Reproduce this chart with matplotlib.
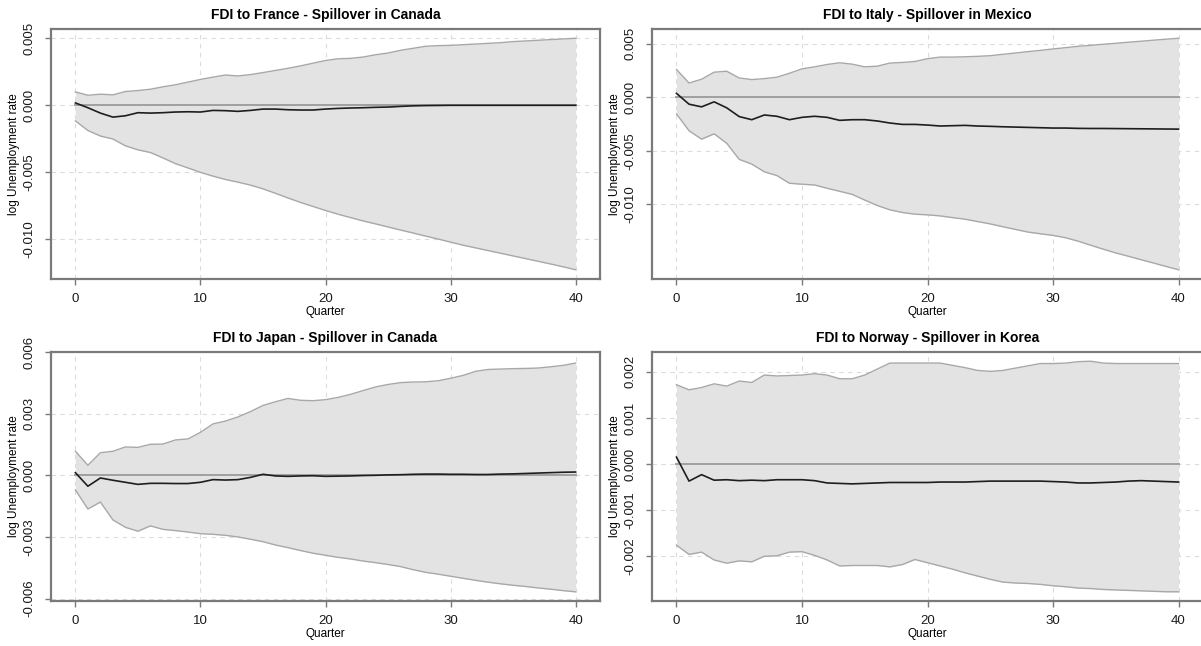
import matplotlib
matplotlib.use("Agg")
import matplotlib.pyplot as plt
import numpy as np

plt.rcParams['font.family'] = ['Liberation Sans', 'DejaVu Sans']
plt.rcParams['axes.unicode_minus'] = False

quarters = np.arange(41)

titles = [
    'FDI to France - Spillover in Canada',
    'FDI to Italy - Spillover in Mexico',
    'FDI to Japan - Spillover in Canada',
    'FDI to Norway - Spillover in Korea',
]

# France -> Canada
fr_ca_irf = [0.00018, -0.00018, -0.00058, -0.00088, -0.00078, -0.00055, -0.00058, -0.00055, -0.0005, -0.00048,
             -0.0005, -0.00038, -0.0004, -0.00045, -0.00038, -0.00028, -0.00028, -0.00033, -0.00035, -0.00035,
             -0.00028, -0.00023, -0.0002, -0.00018, -0.00015, -0.00013, -0.00008, -0.00004, -0.00002, -0.00001,
             0.0, 0.0, 0.0, 0.0, 0.0, 0.0, 0.0, 0.0, 0.0, 0.0, 0.0]
fr_ca_upper = [0.001, 0.00075, 0.00083, 0.00078, 0.00103, 0.0011, 0.0012, 0.00138, 0.00153, 0.00173,
               0.00193, 0.0021, 0.00226, 0.00219, 0.00229, 0.00244, 0.0026, 0.00276, 0.00294, 0.00314,
               0.00334, 0.00347, 0.0035, 0.0036, 0.00377, 0.0039, 0.0041, 0.00425, 0.0044, 0.00445,
               0.00447, 0.00452, 0.00457, 0.00462, 0.00467, 0.00475, 0.0048, 0.00485, 0.0049, 0.00495, 0.005]
fr_ca_lower = [-0.00116, -0.00188, -0.00229, -0.00251, -0.00302, -0.00332, -0.00352, -0.00392, -0.00435, -0.00467,
               -0.005, -0.00528, -0.00553, -0.00573, -0.00595, -0.00623, -0.00656, -0.00691, -0.00724, -0.00754,
               -0.00784, -0.00812, -0.00837, -0.00862, -0.00884, -0.00907, -0.0093, -0.00952, -0.00975, -0.00997,
               -0.0102, -0.01043, -0.01063, -0.01083, -0.01103, -0.01123, -0.01143, -0.01163, -0.01183, -0.01204, -0.01226]

# Italy -> Mexico
it_mx_irf = [0.00038, -0.00063, -0.00088, -0.00041, -0.00097, -0.00179, -0.00208, -0.00164, -0.00176, -0.00208,
             -0.00186, -0.00176, -0.00186, -0.00214, -0.00208, -0.00208, -0.0022, -0.00239, -0.00252, -0.00252,
             -0.00258, -0.00267, -0.00264, -0.00261, -0.00267, -0.0027, -0.00274, -0.00277, -0.0028, -0.00283,
             -0.00286, -0.00286, -0.00289, -0.0029, -0.0029, -0.00291, -0.00292, -0.00293, -0.00294, -0.00295, -0.00296]
it_mx_upper = [0.00261, 0.00135, 0.0017, 0.00236, 0.00245, 0.00182, 0.00167, 0.00176, 0.00189, 0.00226,
               0.00267, 0.00286, 0.00308, 0.00324, 0.00311, 0.00286, 0.00292, 0.00321, 0.00327, 0.00336,
               0.00362, 0.00377, 0.00377, 0.0038, 0.00384, 0.0039, 0.00403, 0.00415, 0.00428, 0.0044,
               0.00453, 0.00465, 0.00478, 0.00487, 0.00497, 0.00506, 0.00516, 0.00525, 0.00535, 0.00544, 0.00553]
it_mx_lower = [-0.00154, -0.00311, -0.0039, -0.0034, -0.00428, -0.00579, -0.00623, -0.00695, -0.0073, -0.00802,
               -0.00811, -0.00818, -0.00849, -0.00877, -0.00906, -0.00959, -0.0101, -0.0105, -0.01075, -0.01091,
               -0.01097, -0.01107, -0.01123, -0.01138, -0.0116, -0.01182, -0.01208, -0.01233, -0.01258, -0.01274,
               -0.01289, -0.01311, -0.01343, -0.01381, -0.01418, -0.01453, -0.01484, -0.01516, -0.01547, -0.01579, -0.0161]

# Japan -> Canada
jp_ca_irf = [0.00013, -0.00053, -0.00013, -0.00024, -0.00034, -0.00044, -0.00039, -0.00039, -0.0004, -0.0004,
             -0.00034, -0.00021, -0.00023, -0.00021, -0.0001, 0.00005, -0.00003, -0.00005, -0.00003, -0.00002,
             -0.00005, -0.00004, -0.00003, -0.00001, 0.0, 0.00002, 0.00003, 0.00005, 0.00006, 0.00006,
             0.00005, 0.00005, 0.00004, 0.00004, 0.00006, 0.00007, 0.00009, 0.00011, 0.00013, 0.00015, 0.00016]
jp_ca_upper = [0.00117, 0.00049, 0.0011, 0.00117, 0.00138, 0.00136, 0.00151, 0.00152, 0.00172, 0.00177,
               0.00209, 0.0025, 0.00264, 0.00284, 0.0031, 0.0034, 0.00358, 0.00374, 0.00365, 0.00363,
               0.00368, 0.00379, 0.00394, 0.00412, 0.0043, 0.00442, 0.00451, 0.00454, 0.00455, 0.0046,
               0.00472, 0.00486, 0.00506, 0.00515, 0.00517, 0.00519, 0.0052, 0.00522, 0.00528, 0.00535, 0.00546]
jp_ca_lower = [-0.00071, -0.00164, -0.0013, -0.00217, -0.00253, -0.00272, -0.00246, -0.00263, -0.00269, -0.00276,
               -0.00284, -0.00287, -0.00292, -0.003, -0.00311, -0.00323, -0.00339, -0.00352, -0.00366, -0.00379,
               -0.00389, -0.00399, -0.00407, -0.00417, -0.00425, -0.00434, -0.00444, -0.00459, -0.00472, -0.00481,
               -0.00491, -0.00501, -0.00511, -0.0052, -0.00528, -0.00535, -0.00541, -0.00548, -0.00554, -0.00561, -0.00567]

# Norway -> Korea
no_kr_irf = [0.00015, -0.00037, -0.00023, -0.00035, -0.00034, -0.00036, -0.00035, -0.00036, -0.00034, -0.00034,
             -0.00034, -0.00036, -0.00041, -0.00042, -0.00043, -0.00042, -0.00041, -0.0004, -0.0004, -0.0004,
             -0.0004, -0.00039, -0.00039, -0.00039, -0.00038, -0.00037, -0.00037, -0.00037, -0.00037, -0.00037,
             -0.00038, -0.00039, -0.00041, -0.00041, -0.0004, -0.00039, -0.00037, -0.00036, -0.00037, -0.00038, -0.00039]
no_kr_upper = [0.00172, 0.00161, 0.00166, 0.00174, 0.00169, 0.0018, 0.00177, 0.00193, 0.00191, 0.00192,
               0.00193, 0.00196, 0.00193, 0.00185, 0.00185, 0.00193, 0.00206, 0.00219, 0.00219, 0.00219,
               0.00219, 0.00219, 0.00214, 0.00209, 0.00203, 0.00201, 0.00203, 0.00208, 0.00213, 0.00218,
               0.00218, 0.00219, 0.00222, 0.00223, 0.00219, 0.00218, 0.00218, 0.00218, 0.00218, 0.00218, 0.00218]
no_kr_lower = [-0.00176, -0.00196, -0.00191, -0.00208, -0.00215, -0.0021, -0.00212, -0.002, -0.00199, -0.00191,
               -0.0019, -0.00198, -0.00208, -0.00221, -0.0022, -0.0022, -0.0022, -0.00223, -0.00218, -0.00207,
               -0.00214, -0.00221, -0.00228, -0.00236, -0.00243, -0.0025, -0.00256, -0.00258, -0.00259, -0.00261,
               -0.00264, -0.00266, -0.00269, -0.0027, -0.00272, -0.00273, -0.00274, -0.00275, -0.00276, -0.00277, -0.00277]

yticks = [
    [0.005, 0.0, -0.005, -0.010],
    [0.005, 0.0, -0.005, -0.010],
    [0.006, 0.003, 0.0, -0.003, -0.006],
    [0.002, 0.001, 0.0, -0.001, -0.002],
]

series = [
    (fr_ca_irf, fr_ca_upper, fr_ca_lower),
    (it_mx_irf, it_mx_upper, it_mx_lower),
    (jp_ca_irf, jp_ca_upper, jp_ca_lower),
    (no_kr_irf, no_kr_upper, no_kr_lower),
]

W, H = 1201, 646
fig = plt.figure(figsize=(W / 100, H / 100), dpi=100)

# panel boxes in pixels: left, right, top, bottom
boxes = [(51, 600, 29, 279), (652, 1203, 29, 279),
         (51, 600, 352, 601), (652, 1203, 352, 601)]

box_col = '#7a7a7a'
for (l, r, t, b), title, (irf, up, lo), yt in zip(boxes, titles, series, yticks):
    ax = fig.add_axes([l / W, 1 - b / H, (r - l) / W, (b - t) / H])
    ax.set_axisbelow(True)
    ax.fill_between(quarters, lo, up, color='#e3e3e3', lw=0, zorder=1)
    ax.plot(quarters, up, color='#a8a8a8', lw=1.0, zorder=2)
    ax.plot(quarters, lo, color='#a8a8a8', lw=1.0, zorder=2)
    ax.plot([quarters[0], quarters[-1]], [0, 0], color='#a0a0a0', lw=1.4, zorder=3)
    ax.plot(quarters, irf, color='#1e1e1e', lw=1.2, zorder=4)

    # R style 4% padding on both axes
    ymin, ymax = min(lo), max(up)
    pad = 0.04 * (ymax - ymin)
    ax.set_ylim(ymin - pad, ymax + pad)
    ax.set_xlim(-1.95, 41.95)

    ax.set_xticks([0, 10, 20, 30, 40])
    ax.set_yticks(yt)
    ax.set_yticklabels(['%.3f' % v for v in yt], rotation=90, va='center')
    ax.grid(True, linestyle=(0, (4, 4)), color='#dcdcdc', lw=0.8)

    for s in ax.spines.values():
        s.set_color(box_col)
        s.set_linewidth(1.6)
    ax.tick_params(direction='out', length=4, width=1, color=box_col,
                   labelsize=9.5, labelcolor='#1a1a1a')
    ax.tick_params(axis='y', pad=7)
    ax.tick_params(axis='x', pad=6)

    ax.set_title(title, fontsize=10, fontweight='bold', pad=7)
    ax.set_xlabel('Quarter', fontsize=8.5, labelpad=1)
    ax.set_ylabel('log Unemployment rate', fontsize=8.5, labelpad=3)

fig.savefig('out.png', dpi=100)
